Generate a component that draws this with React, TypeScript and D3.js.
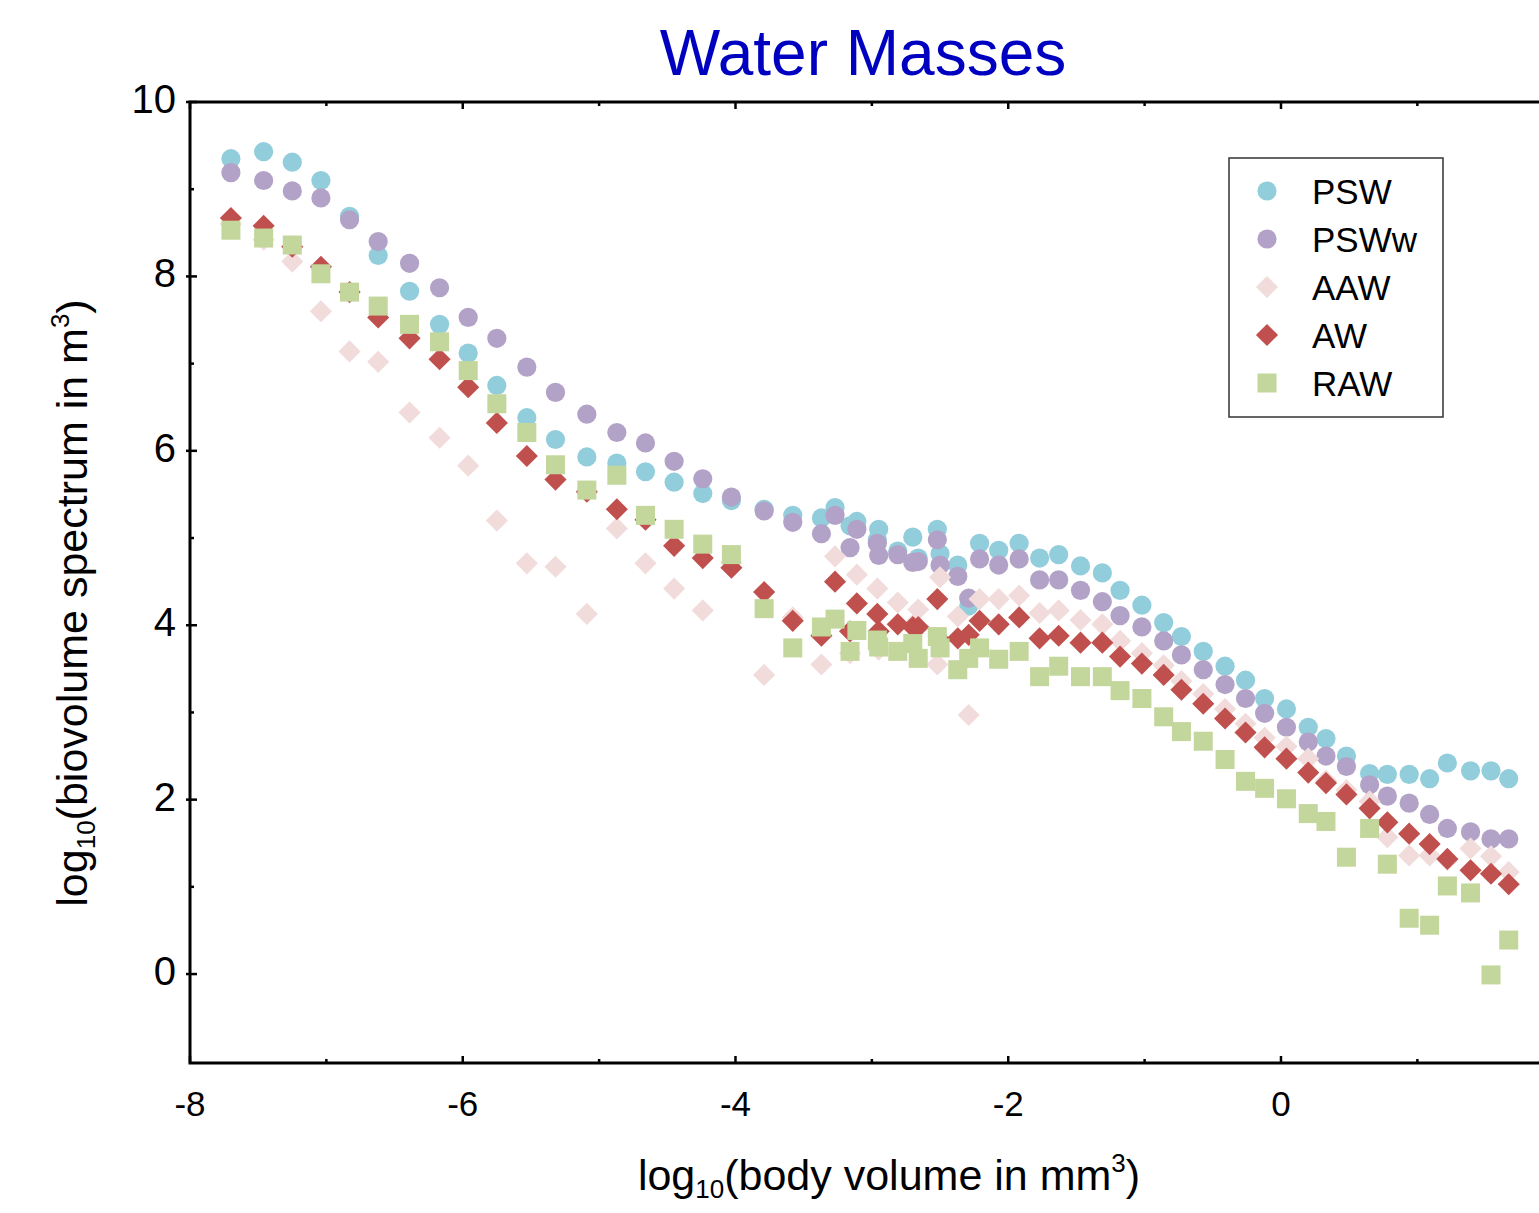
import React from 'react';
import * as d3 from 'd3';

// Bin centres (log10 body volume, mm^3) for the two size ranges
const binsSmall = [-7.70, -7.46, -7.25, -7.04, -6.83, -6.62, -6.39, -6.17, -5.96, -5.75, -5.53, -5.32, -5.09, -4.87, -4.66, -4.45, -4.24, -4.03, -3.79, -3.58, -3.37, -3.16, -2.95, -2.70, -2.52, -2.29];
const binsLarge = [-3.27, -3.11, -2.96, -2.81, -2.66, -2.50, -2.37, -2.21, -2.07, -1.92, -1.77, -1.63, -1.47, -1.31, -1.18, -1.02, -0.86, -0.73, -0.57, -0.41, -0.26, -0.12, 0.04, 0.20, 0.33, 0.48, 0.65, 0.78, 0.94, 1.09, 1.22, 1.39, 1.54, 1.67];

// log10 biovolume spectrum values
const pswSmall = [9.35, 9.43, 9.31, 9.10, 8.69, 8.24, 7.83, 7.45, 7.12, 6.75, 6.38, 6.13, 5.93, 5.86, 5.76, 5.64, 5.51, 5.43, 5.33, 5.26, 5.23, 5.14, 5.10, 5.01, 5.10, 4.22];
const pswLarge = [5.35, 5.19, 4.98, 4.85, 4.77, 4.82, 4.69, 4.94, 4.86, 4.94, 4.77, 4.81, 4.68, 4.60, 4.40, 4.23, 4.03, 3.87, 3.70, 3.53, 3.37, 3.16, 3.04, 2.83, 2.70, 2.50, 2.30, 2.29, 2.29, 2.24, 2.42, 2.33, 2.33, 2.24];
const pswwSmall = [9.19, 9.10, 8.98, 8.90, 8.65, 8.40, 8.15, 7.87, 7.53, 7.29, 6.96, 6.67, 6.42, 6.21, 6.09, 5.88, 5.68, 5.47, 5.31, 5.18, 5.05, 4.89, 4.80, 4.72, 4.98, 4.31];
const pswwLarge = [5.26, 5.10, 4.94, 4.81, 4.73, 4.69, 4.56, 4.76, 4.69, 4.76, 4.52, 4.52, 4.40, 4.27, 4.11, 3.98, 3.82, 3.66, 3.49, 3.32, 3.16, 2.99, 2.83, 2.66, 2.50, 2.38, 2.17, 2.04, 1.96, 1.83, 1.67, 1.63, 1.55, 1.55];
const aawSmall = [8.60, 8.42, 8.17, 7.60, 7.14, 7.02, 6.44, 6.15, 5.83, 5.20, 4.71, 4.67, 4.13, 5.11, 4.71, 4.42, 4.17, 4.72, 3.43, 4.09, 3.55, 3.68, 3.72, 4.00, 3.55, 2.97];
const aawLarge = [4.79, 4.58, 4.42, 4.26, 4.18, 4.55, 4.10, 4.30, 4.30, 4.34, 4.14, 4.17, 4.06, 4.01, 3.82, 3.68, 3.54, 3.36, 3.21, 3.04, 2.87, 2.71, 2.61, 2.47, 2.22, 2.11, 1.98, 1.57, 1.36, 1.36, 1.31, 1.44, 1.35, 1.17];
const awSmall = [8.67, 8.58, 8.34, 8.11, 7.82, 7.53, 7.29, 7.05, 6.73, 6.32, 5.94, 5.67, 5.53, 5.33, 5.21, 4.91, 4.77, 4.66, 4.38, 4.05, 3.88, 3.93, 3.93, 3.98, 4.30, 3.89];
const awLarge = [4.50, 4.25, 4.13, 4.01, 3.98, 3.83, 3.85, 4.05, 4.01, 4.09, 3.85, 3.88, 3.80, 3.80, 3.64, 3.56, 3.43, 3.26, 3.10, 2.93, 2.77, 2.60, 2.47, 2.31, 2.19, 2.06, 1.90, 1.74, 1.61, 1.49, 1.32, 1.19, 1.15, 1.03];
const rawSmall = [8.53, 8.44, 8.36, 8.03, 7.82, 7.66, 7.45, 7.25, 6.92, 6.54, 6.21, 5.84, 5.55, 5.72, 5.26, 5.10, 4.93, 4.81, 4.19, 3.74, 3.98, 3.70, 3.75, 3.79, 3.87, 3.62];
const rawLarge = [4.07, 3.94, 3.83, 3.70, 3.62, 3.74, 3.49, 3.74, 3.61, 3.70, 3.41, 3.53, 3.41, 3.41, 3.25, 3.16, 2.95, 2.78, 2.67, 2.46, 2.21, 2.13, 2.01, 1.84, 1.75, 1.34, 1.67, 1.26, 0.64, 0.56, 1.01, 0.93, -0.01, 0.39];

const seriesNames = ['PSW', 'PSWw', 'AAW', 'AW', 'RAW'];
const seriesColors = ['#92CDDC', '#B3A2C7', '#F2DCDB', '#C0504D', '#C3D69B'];
const seriesShapes = ['circle', 'circle', 'diamond', 'diamond', 'square'];

const xMajorTicks = [-8, -6, -4, -2, 0];
const xMinorTicks = [-7, -5, -3, -1, 1];
const yMajorTicks = [0, 2, 4, 6, 8, 10];
const yMinorTicks = [1, 3, 5, 7, 9];

const W = 1539;
const H = 1213;
const L = 190, T = 102, R = 1539, B = 1063;

const x = d3.scaleLinear().domain([-8, 1.892]).range([L, R]);
const y = d3.scaleLinear().domain([-1.02, 10]).range([B, T]);

const FONT = "'Liberation Sans', Arial, Helvetica, sans-serif";

const squarePath = d3.symbol().type(d3.symbolSquare).size(361)() as string;
const diamondPath = d3.symbol().type(d3.symbolSquare).size(245)() as string;

function Marker({ shape, cx, cy, color }: { shape: string; cx: number; cy: number; color: string }) {
  if (shape === 'circle') return <circle cx={cx} cy={cy} r={9.6} fill={color} />;
  if (shape === 'square') return <path d={squarePath} transform={`translate(${cx},${cy})`} fill={color} />;
  return <path d={diamondPath} transform={`translate(${cx},${cy}) rotate(45)`} fill={color} />;
}

export default function App() {
  const data = [
    [pswSmall, pswLarge],
    [pswwSmall, pswwLarge],
    [aawSmall, aawLarge],
    [awSmall, awLarge],
    [rawSmall, rawLarge],
  ];

  const legendX = 1229, legendY = 158, legendW = 214, legendH = 259;

  return (
    <svg width={W} height={H} style={{ position: 'absolute', left: 0, top: 0, background: '#fff' }} fontFamily={FONT}>
      <rect x={0} y={0} width={W} height={H} fill="#fff" />
      {/* Title */}
      <text x={863} y={75} textAnchor="middle" fontSize={64} fill="#0000C0">Water Masses</text>

      {/* Points */}
      {data.map((pair, si) => (
        <g key={seriesNames[si]}>
          {pair[0].map((v, i) => (
            <Marker key={'a' + i} shape={seriesShapes[si]} cx={x(binsSmall[i])} cy={y(v)} color={seriesColors[si]} />
          ))}
          {pair[1].map((v, i) => (
            <Marker key={'b' + i} shape={seriesShapes[si]} cx={x(binsLarge[i])} cy={y(v)} color={seriesColors[si]} />
          ))}
        </g>
      ))}

      {/* Axes frame */}
      <path d={`M${R},${T}H${L}V${B}H${R}`} fill="none" stroke="#000" strokeWidth={3} />

      {/* Y ticks */}
      {yMajorTicks.map(t => (
        <g key={'ym' + t}>
          <line x1={L - 4} x2={L + 7} y1={y(t)} y2={y(t)} stroke="#000" strokeWidth={2.5} />
          <text x={176} y={y(t) + 11} textAnchor="end" fontSize={40} fill="#000">{t}</text>
        </g>
      ))}
      {yMinorTicks.map(t => (
        <line key={'yn' + t} x1={L} x2={L + 4} y1={y(t)} y2={y(t)} stroke="#000" strokeWidth={2.5} />
      ))}

      {/* X ticks bottom & top */}
      {xMajorTicks.map(t => (
        <g key={'xm' + t}>
          <line x1={x(t)} x2={x(t)} y1={B} y2={B - 7} stroke="#000" strokeWidth={2.5} />
          <line x1={x(t)} x2={x(t)} y1={T} y2={T + 7} stroke="#000" strokeWidth={2.5} />
          <text x={x(t)} y={1116} textAnchor="middle" fontSize={35} fill="#000">{t}</text>
        </g>
      ))}
      {xMinorTicks.map(t => (
        <g key={'xn' + t}>
          <line x1={x(t)} x2={x(t)} y1={B} y2={B - 4} stroke="#000" strokeWidth={2.5} />
          <line x1={x(t)} x2={x(t)} y1={T} y2={T + 4} stroke="#000" strokeWidth={2.5} />
        </g>
      ))}

      {/* X axis label */}
      <text x={889} y={1190} textAnchor="middle" fontSize={43} fill="#000">
        log<tspan fontSize={26} dy={8}>10</tspan>
        <tspan dy={-8}>(body volume in mm</tspan>
        <tspan fontSize={26} dy={-18}>3</tspan>
        <tspan dy={18}>)</tspan>
      </text>

      {/* Y axis label */}
      <text transform={`translate(87,603) rotate(-90)`} textAnchor="middle" fontSize={43} fill="#000">
        log<tspan fontSize={26} dy={8}>10</tspan>
        <tspan dy={-8}>(biovolume spectrum in m</tspan>
        <tspan fontSize={26} dy={-18}>3</tspan>
        <tspan dy={18}>)</tspan>
      </text>

      {/* Legend */}
      <rect x={legendX} y={legendY} width={legendW} height={legendH} fill="#fff" stroke="#333" strokeWidth={1.5} />
      {seriesNames.map((n, i) => {
        const ry = 191 + i * 48;
        return (
          <g key={'lg' + n}>
            <Marker shape={seriesShapes[i]} cx={1267} cy={ry} color={seriesColors[i]} />
            <text x={1312} y={ry + 12.5} fontSize={35} fill="#000">{n}</text>
          </g>
        );
      })}
    </svg>
  );
}
